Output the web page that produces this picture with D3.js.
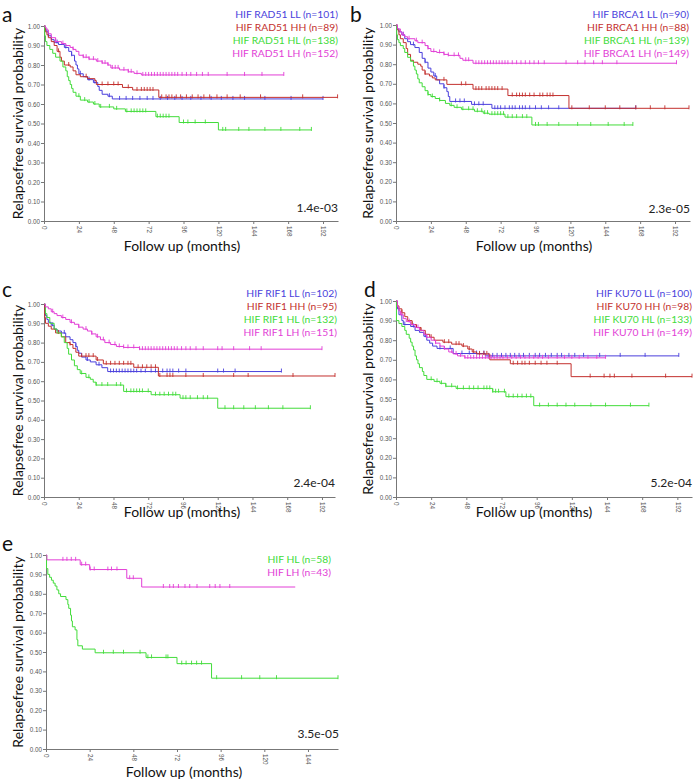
<!DOCTYPE html>
<html><head><meta charset="utf-8">
<script src="https://cdn.jsdelivr.net/npm/d3@7/dist/d3.min.js"></script>
<style>body{margin:0;background:#fff}svg{display:block}</style>
</head><body>
<svg id="chart" width="694" height="782"></svg>
<script>
// ---------------- DATA ----------------
const panelLetters = ["a","b","c","d","e"];
const genes = ["RAD51","BRCA1","RIF1","KU70"];
const groups = ["LL","HH","HL","LH"];
const nA = [101,89,138,152];
const nB = [90,88,139,149];
const nC = [102,95,132,151];
const nD = [100,98,133,149];
const nE = [58,43];           // HL, LH
const pValues = ["1.4e-03","2.3e-05","2.4e-04","5.2e-04","3.5e-05"];
const yTicks = [0,0.1,0.2,0.3,0.4,0.5,0.6,0.7,0.8,0.9,1.0];
const xTicks = [0,24,48,72,96,120,144,168,192];
const xTicksE = [0,24,48,72,96,120,144];

// step data: [month, survival after drop]; end = last follow-up month
const aLL = [[0,1],[1,0.98],[2,0.97],[3,0.95],[5,0.93],[7,0.915],[10,0.905],[14,0.89],[17,0.87],[19,0.85],[21,0.82],[22,0.80],[23,0.78],[24,0.755],[27,0.74],[30,0.725],[34,0.71],[37,0.69],[38,0.67],[40,0.65],[44,0.64],[47,0.626]];
const aHH = [[0,1],[1,0.97],[2,0.955],[3,0.94],[5,0.92],[7,0.90],[9,0.87],[11,0.84],[12,0.82],[14,0.80],[18,0.79],[20,0.77],[22,0.75],[25,0.74],[30,0.73],[35,0.72],[36,0.70],[54,0.685],[61,0.672],[79,0.634]];
const aHL = [[0,1],[0.5,0.95],[1,0.92],[2,0.90],[4,0.88],[6,0.86],[8,0.84],[11,0.82],[13,0.79],[15,0.77],[16,0.74],[17,0.72],[18,0.70],[19,0.68],[20,0.66],[22,0.64],[25,0.62],[30,0.61],[34,0.60],[38,0.585],[48,0.575],[56,0.562],[77,0.535],[93,0.505],[120,0.467]];
const aLH = [[0,1],[1,0.99],[2,0.98],[3,0.96],[5,0.94],[8,0.92],[12,0.91],[15,0.90],[18,0.89],[20,0.88],[22,0.87],[24,0.85],[27,0.84],[31,0.83],[36,0.82],[40,0.81],[44,0.80],[46,0.785],[52,0.775],[58,0.765],[62,0.757],[67,0.749]];
const aEnd = [192,202,184,165];
const aLLc = [3,9,15,19,25,31,35,45,52,56.5,61,66,71,75,80,85,90,95,101,108,115,122,130,138,152,170,192];
const aHHc = [10,17,29,40,44,48,51,58,64,67,69,71,73,75,81,84,86,88,91,94,98,102,106,110,114,119,126,135,149,178,202];
const aHLc = [24,28,31,35,39,45,50,57,60,62,64,66,68,70,78,80,82,84,86,96,99,104,111,123,125,134,141,152,163,176,184];
const aLHc = [8,13,20,27,29,31,34,37,40,42,44,47,49,51,55,58,60,64,68,70,72,74,76,78,80,82,84,86,88,90,92,95,98,101,105,109,113,126,138,150,165];

const bLL = [[0,1],[1,0.98],[2,0.965],[4,0.95],[6,0.93],[8,0.915],[10,0.90],[13,0.885],[16,0.86],[18,0.83],[20,0.81],[22,0.78],[24,0.76],[26,0.74],[28,0.72],[30,0.70],[33,0.68],[35,0.66],[36,0.635],[37,0.61],[52,0.595],[66,0.575]];
const bHH = [[0,1],[1,0.975],[2,0.95],[3,0.93],[5,0.91],[7,0.88],[8,0.85],[10,0.82],[12,0.81],[15,0.80],[17,0.79],[18,0.77],[20,0.75],[23,0.74],[25,0.73],[27,0.72],[35,0.697],[53,0.673],[77,0.64],[119,0.575]];
const bHL = [[0,1],[0.5,0.95],[1,0.925],[2,0.91],[3,0.895],[5,0.88],[6,0.86],[8,0.835],[10,0.815],[12,0.79],[13,0.77],[14,0.75],[15,0.725],[16,0.705],[18,0.685],[20,0.665],[22,0.645],[24,0.635],[27,0.625],[30,0.615],[34,0.60],[37,0.59],[40,0.58],[45,0.57],[54,0.56],[60,0.55],[64,0.545],[75,0.53],[93.5,0.49]];
const bLH = [[0,1],[1,0.98],[3,0.965],[4,0.95],[6,0.94],[8,0.93],[13,0.92],[15,0.91],[20,0.895],[22,0.88],[24,0.865],[28,0.86],[33,0.85],[36,0.845],[44,0.83],[46,0.82],[53,0.805]];
const bEnd = [165,201.6,163,193];
const bLLc = [5,12,20,27,33,41,44,47,54,57,60,68,70,72,75,78,80,82,85,87,89,92,96,100,105,112,165];
const bHHc = [20,33,45,48,55,57,59,62,64,66,68,70,73,80,83,85,87,89,92,95,99,101,104,106,108,121,133,144,154,165,175,185,201.6];
const bHLc = [22,25,30,38,42,46,50,53,56,59,61,63,66,68,70,72,74,77,80,83,87,90,96,98,104,112,125,134,146,157,163];
const bLHc = [5,9,14,18,22,26,30,33,36,40,43,48,50,55,57,59,61,63,65,67,69,71,73,75,77,80,83,86,89,92,95,98,102,117,125,130,136,142,152,193];

const cLL = [[0,1],[0.5,0.96],[1,0.94],[2,0.92],[3,0.905],[5,0.89],[7,0.87],[9,0.86],[12,0.85],[15,0.83],[18,0.815],[20,0.80],[22,0.78],[23,0.76],[24,0.745],[26,0.725],[29,0.71],[32,0.70],[36,0.685],[40,0.67],[44,0.65]];
const cHH = [[0,1],[0.5,0.93],[1,0.90],[3,0.885],[5,0.87],[8,0.85],[12,0.83],[15,0.80],[18,0.79],[20,0.77],[22,0.75],[24,0.73],[36,0.71],[41,0.69],[62,0.672],[79,0.627]];
const cHL = [[0,1],[1,0.95],[2,0.93],[4,0.90],[7,0.87],[9,0.85],[12,0.83],[14,0.80],[16,0.77],[17,0.74],[19,0.71],[21,0.68],[23,0.66],[25,0.64],[29,0.62],[32,0.61],[34,0.595],[36,0.58],[55,0.547],[74,0.53],[94,0.512],[120,0.46]];
const cLH = [[0,1],[1,0.985],[3,0.975],[5,0.96],[7,0.95],[9,0.94],[12,0.93],[15,0.92],[18,0.905],[21,0.895],[24,0.88],[27,0.87],[30,0.86],[33,0.845],[36,0.83],[39,0.815],[42,0.80],[46,0.79],[50,0.78],[55,0.775],[66,0.766]];
const cEnd = [164,201,184,192];
const cLLc = [6,14,22,30,38,46,48,50,52,54,56,58,60,62,64,67,70,74,77,82,85,87,89,93,98,120,124,132,164];
const cHHc = [10,18,26,29,31,34,37,43,46,49,52,55,58,60,65,68,71,74,77,80,85,87,89,98,110,131,141,172,201];
const cHLc = [26,31,36,40,44,50,53,57,60,62,64,66,68,72,77,80,83,86,89,91,96,98,101,106,110,113,125,131,138,146,155,165,184];
const cLHc = [6,13,19,24,29,33,37,41,45,49,52,55,58,62,66,68,70,72,74,76,78,80,82,84,86,88,90,92,95,98,101,105,110,120,123,131,142,150,192];

const dLL = [[0,1],[1,0.96],[2,0.93],[4,0.90],[5,0.88],[10,0.87],[13,0.85],[16,0.84],[19,0.82],[21,0.80],[23,0.785],[25,0.77],[28,0.758],[39,0.732],[61,0.72]];
const dHH = [[0,1],[1,0.975],[2,0.96],[4,0.94],[6,0.92],[8,0.90],[11,0.88],[14,0.865],[17,0.85],[20,0.83],[23,0.815],[26,0.80],[32,0.79],[38,0.78],[45,0.77],[49,0.755],[52,0.74],[55,0.73],[64,0.70],[78,0.68],[119.5,0.614]];
const dHL = [[0,1],[0.3,0.90],[2,0.885],[4,0.87],[6,0.85],[7,0.83],[9,0.81],[10,0.79],[11,0.77],[12,0.75],[13,0.72],[14,0.70],[15,0.68],[16,0.66],[18,0.64],[19,0.62],[21,0.60],[26,0.59],[30,0.58],[34,0.565],[41,0.554],[66,0.537],[75,0.512],[94,0.466]];
const dLH = [[0,1],[1,0.97],[2,0.95],[3,0.93],[5,0.91],[7,0.895],[10,0.88],[13,0.865],[16,0.85],[19,0.83],[21,0.815],[24,0.80],[27,0.785],[30,0.77],[33,0.755],[36,0.74],[39,0.73],[42,0.72],[47,0.71]];
const dEnd = [193,202,172.6,143];
const dLLc = [6,12,20,30,37,45,50,55,60,63,66,69,72,75,78,81,84,87,91,95,98,102,106,110,113,118,122,128,139,153,170,193];
const dHHc = [4,11,17,24,33,36,41,43,46,50,53,57,60,62,80,83,86,88,91,95,99,103,110,132.5,142,146,149,161,184,202];
const dHLc = [24,28,31,34,38,42,46,50,53,56,60,62,64,66,68,70,74,77,80,83,86,89,92,98,104,110,116,122,133,143,160,172.6];
const dLHc = [4,9,15,21,27,33,38,41,44,47,49,51,53,55,57,59,61,63,65,67,69,71,73,76,79,82,85,88,91,94,97,100,104,110,115,120,125,131,137,143];

const eHL = [[0,1],[0.3,0.93],[1,0.90],[2,0.885],[3,0.87],[4,0.855],[5,0.84],[6,0.82],[7,0.80],[8,0.786],[11,0.77],[12,0.745],[12.5,0.725],[13.5,0.69],[14,0.66],[14.5,0.63],[16,0.614],[17,0.563],[17.5,0.532],[20,0.515],[27,0.496],[55,0.472],[72,0.44],[91,0.365]];
const eLH = [[0,1],[0.5,0.975],[18.8,0.95],[24,0.925],[44.4,0.88],[52.6,0.835]];
const eEnd = [160.5,137];
const eHLc = [31.6,37,42.6,51.7,56,58,66,67,74.6,77,80,82.8,85.5,93.8,107.5,117.5,126.7,160.5];
const eLHc = [9.3,11.5,13.9,16.3,19.6,21.8,24.3,26.5,34,36,39,46,48,64.5,68,70,72.8,76.4,79,83,90,93,95.6,101];

// ---------------- STYLE / LAYOUT ----------------
const colors = {LL:"#4a3fdc", HH:"#c3302e", HL:"#42dc3a", LH:"#e23ed6"};
const FONT = "Lato, 'Open Sans', sans-serif";
const TICKFONT = "'Liberation Sans', Arial, sans-serif";

const panels = [
  {letter:panelLetters[0], gene:genes[0], n:nA, p:pValues[0], left:44, top:26, bottom:221, right:338, xmax:202.3, ticks:xTicks,
   series:[["LL",aLL,aEnd[0],aLLc],["HH",aHH,aEnd[1],aHHc],["HL",aHL,aEnd[2],aHLc],["LH",aLH,aEnd[3],aLHc]],
   lx:2, ly:22, legRight:338, legTop:18, pY:212, yTitleX:23, xTitleY:251},
  {letter:panelLetters[1], gene:genes[1], n:nB, p:pValues[1], left:396, top:25, bottom:221, right:690, xmax:202.3, ticks:xTicks,
   series:[["LL",bLL,bEnd[0],bLLc],["HH",bHH,bEnd[1],bHHc],["HL",bHL,bEnd[2],bHLc],["LH",bLH,bEnd[3],bLHc]],
   lx:350, ly:22, legRight:689, legTop:18, pY:213, yTitleX:373, xTitleY:251},
  {letter:panelLetters[2], gene:genes[2], n:nC, p:pValues[2], left:44, top:304, bottom:497, right:335, xmax:201, ticks:xTicks,
   series:[["LL",cLL,cEnd[0],cLLc],["HH",cHH,cEnd[1],cHHc],["HL",cHL,cEnd[2],cHLc],["LH",cLH,cEnd[3],cLHc]],
   lx:2, ly:297, legRight:337, legTop:297, pY:487, yTitleX:23, xTitleY:517},
  {letter:panelLetters[3], gene:genes[3], n:nD, p:pValues[3], left:396, top:301, bottom:497, right:692, xmax:202, ticks:xTicks,
   series:[["LL",dLL,dEnd[0],dLLc],["HH",dHH,dEnd[1],dHHc],["HL",dHL,dEnd[2],dHLc],["LH",dLH,dEnd[3],dLHc]],
   lx:364, ly:297, legRight:692, legTop:297, pY:487, yTitleX:373, xTitleY:517},
  {letter:panelLetters[4], gene:null, n:nE, p:pValues[4], left:46, top:555, bottom:749, right:338, xmax:160.5, ticks:xTicksE,
   series:[["HL",eHL,eEnd[0],eHLc],["LH",eLH,eEnd[1],eLHc]],
   lx:2, ly:551, legRight:331, legTop:563, pY:738, yTitleX:23, xTitleY:777}
];

const svg = d3.select("#chart");
svg.append("rect").attr("width",694).attr("height",782).attr("fill","#fff");

function survAt(steps, t){ let v = 1; for (const [tt,s] of steps) if (tt <= t) v = s; return v; }

panels.forEach(P => {
  const g = svg.append("g");
  const x = d3.scaleLinear().domain([0,P.xmax]).range([P.left,P.right]);
  const y = d3.scaleLinear().domain([0,1]).range([P.bottom,P.top]);

  // axes
  const ya = g.append("g").attr("transform",`translate(${P.left},0)`)
    .call(d3.axisLeft(y).tickValues(yTicks).tickFormat(d3.format(".2f")).tickSize(3).tickSizeOuter(0).tickPadding(1));
  ya.selectAll("text").attr("font-family",TICKFONT).attr("font-size",6.3).attr("fill","#555");
  ya.selectAll("line,path").attr("stroke","#777");
  const xa = g.append("g").attr("transform",`translate(0,${P.bottom})`)
    .call(d3.axisBottom(x).tickValues(P.ticks).tickSize(3).tickSizeOuter(0));
  xa.selectAll("text").attr("font-family",TICKFONT).attr("font-size",6.3).attr("fill","#555")
    .attr("transform","rotate(90)").attr("text-anchor","start").attr("dy","0.32em").attr("x",5).attr("y",0);
  xa.selectAll("line,path").attr("stroke","#777");

  // curves
  const line = d3.line().x(d=>x(d[0])).y(d=>y(d[1])).curve(d3.curveStepAfter);
  P.series.forEach(([grp, steps, end, cens]) => {
    const pts = steps.concat([[end, steps[steps.length-1][1]]]);
    g.append("path").attr("d", line(pts)).attr("fill","none")
      .attr("stroke", colors[grp]).attr("stroke-width",1);
    g.append("g").selectAll("line").data(cens).join("line")
      .attr("x1",d=>x(d)).attr("x2",d=>x(d))
      .attr("y1",d=>y(survAt(steps,d))-3).attr("y2",d=>y(survAt(steps,d))+1)
      .attr("stroke", colors[grp]).attr("stroke-width",0.9);
  });

  // legend
  const labels = P.series.map(([grp],i) => ({grp, text: (P.gene ? `HIF ${P.gene} ${grp}` : `HIF ${grp}`) + ` (n=${P.n[i]})`}));
  g.selectAll(".leg").data(labels).join("text")
    .attr("x",P.legRight).attr("y",(d,i)=>P.legTop + i*13.1)
    .attr("text-anchor","end").attr("font-family",FONT).attr("font-size",10.3)
    .attr("fill",d=>colors[d.grp]).text(d=>d.text);

  // p-value
  g.append("text").attr("x",P.right+ (P.letter==="e"?1:0) ).attr("y",P.pY).attr("text-anchor","end")
    .attr("font-family",FONT).attr("font-size",12).attr("fill","#222").text(P.p);

  // titles
  g.append("text").attr("transform",`translate(${P.yTitleX},${(P.top+P.bottom)/2}) rotate(-90)`)
    .attr("text-anchor","middle").attr("font-family",FONT).attr("font-size",14).attr("fill","#111")
    .text("Relapsefree survival probability");
  g.append("text").attr("x",P.left+138).attr("y",P.xTitleY).attr("text-anchor","middle")
    .attr("font-family",FONT).attr("font-size",14).attr("fill","#111").text("Follow up (months)");

  // panel letter
  g.append("text").attr("x",P.lx).attr("y",P.ly).attr("font-family",FONT).attr("font-size",21)
    .attr("fill","#111").text(P.letter);
});
</script>
</body></html>
